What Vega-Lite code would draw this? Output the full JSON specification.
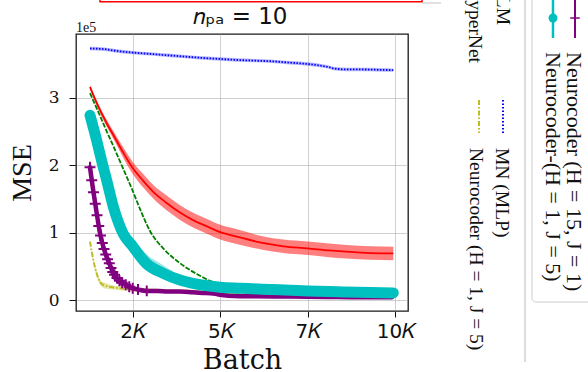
{
  "$schema": "https://vega.github.io/schema/vega-lite/v6.json",
  "width": 332,
  "height": 277,
  "autosize": {"type": "none"},
  "padding": {"left": 76, "top": 34, "right": 180, "bottom": 61},
  "background": "white",
  "config": {
    "view": {"stroke": "#1a1a1a", "strokeWidth": 1.3},
    "axis": {"grid": true, "gridColor": "#a0a0a0", "gridDash": [1, 1], "gridWidth": 1, "domain": false, "tickColor": "#111", "tickWidth": 1, "labelColor": "#111", "titleColor": "#111", "titleFontWeight": "normal"}
  },
  "datasets": {
    "curves": [
      {"s": "MN (MLP)", "b": 1280, "m": 3.73, "lo": 3.705, "hi": 3.755},
      {"s": "MN (MLP)", "b": 1700, "m": 3.72, "lo": 3.695, "hi": 3.745},
      {"s": "MN (MLP)", "b": 2100, "m": 3.69, "lo": 3.665, "hi": 3.715},
      {"s": "MN (MLP)", "b": 2500, "m": 3.67, "lo": 3.645, "hi": 3.695},
      {"s": "MN (MLP)", "b": 3000, "m": 3.65, "lo": 3.625, "hi": 3.675},
      {"s": "MN (MLP)", "b": 3500, "m": 3.63, "lo": 3.605, "hi": 3.655},
      {"s": "MN (MLP)", "b": 4000, "m": 3.61, "lo": 3.585, "hi": 3.635},
      {"s": "MN (MLP)", "b": 4500, "m": 3.59, "lo": 3.565, "hi": 3.615},
      {"s": "MN (MLP)", "b": 5000, "m": 3.575, "lo": 3.55, "hi": 3.6},
      {"s": "MN (MLP)", "b": 5500, "m": 3.56, "lo": 3.535, "hi": 3.585},
      {"s": "MN (MLP)", "b": 6000, "m": 3.55, "lo": 3.525, "hi": 3.575},
      {"s": "MN (MLP)", "b": 6500, "m": 3.54, "lo": 3.515, "hi": 3.565},
      {"s": "MN (MLP)", "b": 7000, "m": 3.52, "lo": 3.495, "hi": 3.545},
      {"s": "MN (MLP)", "b": 7500, "m": 3.5, "lo": 3.475, "hi": 3.525},
      {"s": "MN (MLP)", "b": 8000, "m": 3.465, "lo": 3.44, "hi": 3.49},
      {"s": "MN (MLP)", "b": 8300, "m": 3.43, "lo": 3.405, "hi": 3.455},
      {"s": "MN (MLP)", "b": 8600, "m": 3.42, "lo": 3.395, "hi": 3.445},
      {"s": "MN (MLP)", "b": 9000, "m": 3.42, "lo": 3.395, "hi": 3.445},
      {"s": "MN (MLP)", "b": 9500, "m": 3.415, "lo": 3.39, "hi": 3.44},
      {"s": "MN (MLP)", "b": 9940, "m": 3.41, "lo": 3.385, "hi": 3.435},

      {"s": "HyperNet", "b": 1280, "m": 3.16, "lo": 3.13, "hi": 3.19},
      {"s": "HyperNet", "b": 1500, "m": 2.89, "lo": 2.85, "hi": 2.93},
      {"s": "HyperNet", "b": 1760, "m": 2.62, "lo": 2.57, "hi": 2.67},
      {"s": "HyperNet", "b": 2000, "m": 2.4, "lo": 2.34, "hi": 2.46},
      {"s": "HyperNet", "b": 2250, "m": 2.17, "lo": 2.09, "hi": 2.25},
      {"s": "HyperNet", "b": 2500, "m": 1.96, "lo": 1.87, "hi": 2.05},
      {"s": "HyperNet", "b": 2800, "m": 1.77, "lo": 1.67, "hi": 1.87},
      {"s": "HyperNet", "b": 3100, "m": 1.6, "lo": 1.5, "hi": 1.7},
      {"s": "HyperNet", "b": 3450, "m": 1.45, "lo": 1.34, "hi": 1.56},
      {"s": "HyperNet", "b": 3850, "m": 1.3, "lo": 1.19, "hi": 1.41},
      {"s": "HyperNet", "b": 4250, "m": 1.18, "lo": 1.07, "hi": 1.29},
      {"s": "HyperNet", "b": 4600, "m": 1.1, "lo": 0.99, "hi": 1.21},
      {"s": "HyperNet", "b": 5000, "m": 1.01, "lo": 0.9, "hi": 1.12},
      {"s": "HyperNet", "b": 5500, "m": 0.94, "lo": 0.83, "hi": 1.05},
      {"s": "HyperNet", "b": 6200, "m": 0.85, "lo": 0.75, "hi": 0.95},
      {"s": "HyperNet", "b": 6800, "m": 0.8, "lo": 0.7, "hi": 0.9},
      {"s": "HyperNet", "b": 7500, "m": 0.77, "lo": 0.67, "hi": 0.87},
      {"s": "HyperNet", "b": 8100, "m": 0.74, "lo": 0.64, "hi": 0.84},
      {"s": "HyperNet", "b": 8600, "m": 0.72, "lo": 0.62, "hi": 0.82},
      {"s": "HyperNet", "b": 9300, "m": 0.7, "lo": 0.6, "hi": 0.8},
      {"s": "HyperNet", "b": 9940, "m": 0.695, "lo": 0.595, "hi": 0.795},

      {"s": "LM", "b": 1280, "m": 3.07},
      {"s": "LM", "b": 1500, "m": 2.81},
      {"s": "LM", "b": 1760, "m": 2.5},
      {"s": "LM", "b": 1950, "m": 2.28},
      {"s": "LM", "b": 2185, "m": 2.0},
      {"s": "LM", "b": 2500, "m": 1.62},
      {"s": "LM", "b": 2750, "m": 1.3},
      {"s": "LM", "b": 3000, "m": 1.02},
      {"s": "LM", "b": 3370, "m": 0.77},
      {"s": "LM", "b": 3850, "m": 0.55},
      {"s": "LM", "b": 4330, "m": 0.39},
      {"s": "LM", "b": 4800, "m": 0.27},
      {"s": "LM", "b": 5280, "m": 0.21},
      {"s": "LM", "b": 6000, "m": 0.17},
      {"s": "LM", "b": 7000, "m": 0.14},
      {"s": "LM", "b": 8000, "m": 0.12},
      {"s": "LM", "b": 9000, "m": 0.11},
      {"s": "LM", "b": 9940, "m": 0.1},

      {"s": "Neurocoder (H=1, J=5)", "b": 1280, "m": 0.87, "lo": 0.85, "hi": 0.89},
      {"s": "Neurocoder (H=1, J=5)", "b": 1330, "m": 0.72, "lo": 0.69, "hi": 0.75},
      {"s": "Neurocoder (H=1, J=5)", "b": 1374, "m": 0.6, "lo": 0.57, "hi": 0.63},
      {"s": "Neurocoder (H=1, J=5)", "b": 1420, "m": 0.49, "lo": 0.45, "hi": 0.53},
      {"s": "Neurocoder (H=1, J=5)", "b": 1470, "m": 0.4, "lo": 0.36, "hi": 0.44},
      {"s": "Neurocoder (H=1, J=5)", "b": 1520, "m": 0.32, "lo": 0.28, "hi": 0.36},
      {"s": "Neurocoder (H=1, J=5)", "b": 1565, "m": 0.27, "lo": 0.23, "hi": 0.31},
      {"s": "Neurocoder (H=1, J=5)", "b": 1650, "m": 0.23, "lo": 0.19, "hi": 0.27},
      {"s": "Neurocoder (H=1, J=5)", "b": 1757, "m": 0.21, "lo": 0.17, "hi": 0.25},
      {"s": "Neurocoder (H=1, J=5)", "b": 1950, "m": 0.19, "lo": 0.16, "hi": 0.22},
      {"s": "Neurocoder (H=1, J=5)", "b": 2136, "m": 0.18, "lo": 0.15, "hi": 0.21},
      {"s": "Neurocoder (H=1, J=5)", "b": 2500, "m": 0.16, "lo": 0.13, "hi": 0.19},
      {"s": "Neurocoder (H=1, J=5)", "b": 3000, "m": 0.15, "lo": 0.12, "hi": 0.18},
      {"s": "Neurocoder (H=1, J=5)", "b": 4000, "m": 0.13, "lo": 0.1, "hi": 0.16},
      {"s": "Neurocoder (H=1, J=5)", "b": 5000, "m": 0.11, "lo": 0.08, "hi": 0.14},
      {"s": "Neurocoder (H=1, J=5)", "b": 6000, "m": 0.1, "lo": 0.07, "hi": 0.13},
      {"s": "Neurocoder (H=1, J=5)", "b": 7000, "m": 0.09, "lo": 0.06, "hi": 0.12},
      {"s": "Neurocoder (H=1, J=5)", "b": 8000, "m": 0.085, "lo": 0.055, "hi": 0.115},
      {"s": "Neurocoder (H=1, J=5)", "b": 9000, "m": 0.08, "lo": 0.05, "hi": 0.11},
      {"s": "Neurocoder (H=1, J=5)", "b": 9940, "m": 0.08, "lo": 0.05, "hi": 0.11},

      {"s": "Neurocoder (H=15, J=1)", "b": 1280, "m": 1.97},
      {"s": "Neurocoder (H=15, J=1)", "b": 1330, "m": 1.78},
      {"s": "Neurocoder (H=15, J=1)", "b": 1380, "m": 1.6},
      {"s": "Neurocoder (H=15, J=1)", "b": 1430, "m": 1.43},
      {"s": "Neurocoder (H=15, J=1)", "b": 1480, "m": 1.26},
      {"s": "Neurocoder (H=15, J=1)", "b": 1530, "m": 1.1},
      {"s": "Neurocoder (H=15, J=1)", "b": 1580, "m": 0.96},
      {"s": "Neurocoder (H=15, J=1)", "b": 1630, "m": 0.85},
      {"s": "Neurocoder (H=15, J=1)", "b": 1680, "m": 0.76},
      {"s": "Neurocoder (H=15, J=1)", "b": 1730, "m": 0.68},
      {"s": "Neurocoder (H=15, J=1)", "b": 1780, "m": 0.61},
      {"s": "Neurocoder (H=15, J=1)", "b": 1830, "m": 0.55},
      {"s": "Neurocoder (H=15, J=1)", "b": 1880, "m": 0.48},
      {"s": "Neurocoder (H=15, J=1)", "b": 1930, "m": 0.42},
      {"s": "Neurocoder (H=15, J=1)", "b": 1980, "m": 0.38},
      {"s": "Neurocoder (H=15, J=1)", "b": 2050, "m": 0.33},
      {"s": "Neurocoder (H=15, J=1)", "b": 2120, "m": 0.29},
      {"s": "Neurocoder (H=15, J=1)", "b": 2200, "m": 0.26},
      {"s": "Neurocoder (H=15, J=1)", "b": 2300, "m": 0.23},
      {"s": "Neurocoder (H=15, J=1)", "b": 2400, "m": 0.2},
      {"s": "Neurocoder (H=15, J=1)", "b": 2500, "m": 0.18},
      {"s": "Neurocoder (H=15, J=1)", "b": 2650, "m": 0.16},
      {"s": "Neurocoder (H=15, J=1)", "b": 2900, "m": 0.14},
      {"s": "Neurocoder (H=15, J=1)", "b": 3200, "m": 0.14},
      {"s": "Neurocoder (H=15, J=1)", "b": 3500, "m": 0.13},
      {"s": "Neurocoder (H=15, J=1)", "b": 3850, "m": 0.13},
      {"s": "Neurocoder (H=15, J=1)", "b": 4200, "m": 0.12},
      {"s": "Neurocoder (H=15, J=1)", "b": 4500, "m": 0.11},
      {"s": "Neurocoder (H=15, J=1)", "b": 4800, "m": 0.1},
      {"s": "Neurocoder (H=15, J=1)", "b": 5100, "m": 0.075},
      {"s": "Neurocoder (H=15, J=1)", "b": 5400, "m": 0.065},
      {"s": "Neurocoder (H=15, J=1)", "b": 6000, "m": 0.06},
      {"s": "Neurocoder (H=15, J=1)", "b": 7000, "m": 0.055},
      {"s": "Neurocoder (H=15, J=1)", "b": 8000, "m": 0.05},
      {"s": "Neurocoder (H=15, J=1)", "b": 9000, "m": 0.045},
      {"s": "Neurocoder (H=15, J=1)", "b": 9900, "m": 0.045},

      {"s": "Neurocoder-(H=1, J=5)", "b": 1280, "m": 2.74, "lo": 2.72, "hi": 2.76},
      {"s": "Neurocoder-(H=1, J=5)", "b": 1470, "m": 2.37, "lo": 2.35, "hi": 2.39},
      {"s": "Neurocoder-(H=1, J=5)", "b": 1620, "m": 2.05, "lo": 2.03, "hi": 2.08},
      {"s": "Neurocoder-(H=1, J=5)", "b": 1760, "m": 1.77, "lo": 1.75, "hi": 1.8},
      {"s": "Neurocoder-(H=1, J=5)", "b": 1950, "m": 1.38, "lo": 1.36, "hi": 1.42},
      {"s": "Neurocoder-(H=1, J=5)", "b": 2230, "m": 0.985, "lo": 0.96, "hi": 1.04},
      {"s": "Neurocoder-(H=1, J=5)", "b": 2500, "m": 0.8, "lo": 0.77, "hi": 0.89},
      {"s": "Neurocoder-(H=1, J=5)", "b": 2900, "m": 0.54, "lo": 0.5, "hi": 0.68},
      {"s": "Neurocoder-(H=1, J=5)", "b": 3370, "m": 0.4, "lo": 0.37, "hi": 0.52},
      {"s": "Neurocoder-(H=1, J=5)", "b": 3850, "m": 0.3, "lo": 0.28, "hi": 0.37},
      {"s": "Neurocoder-(H=1, J=5)", "b": 4330, "m": 0.24, "lo": 0.22, "hi": 0.28},
      {"s": "Neurocoder-(H=1, J=5)", "b": 5000, "m": 0.195, "lo": 0.18, "hi": 0.21},
      {"s": "Neurocoder-(H=1, J=5)", "b": 5600, "m": 0.18, "lo": 0.165, "hi": 0.195},
      {"s": "Neurocoder-(H=1, J=5)", "b": 6200, "m": 0.165, "lo": 0.15, "hi": 0.18},
      {"s": "Neurocoder-(H=1, J=5)", "b": 7000, "m": 0.15, "lo": 0.135, "hi": 0.165},
      {"s": "Neurocoder-(H=1, J=5)", "b": 7500, "m": 0.14, "lo": 0.125, "hi": 0.155},
      {"s": "Neurocoder-(H=1, J=5)", "b": 8500, "m": 0.125, "lo": 0.11, "hi": 0.14},
      {"s": "Neurocoder-(H=1, J=5)", "b": 9300, "m": 0.115, "lo": 0.1, "hi": 0.13},
      {"s": "Neurocoder-(H=1, J=5)", "b": 9940, "m": 0.11, "lo": 0.095, "hi": 0.125}
    ],
    "legend": [
      {"s": "HyperNet", "label": "HyperNet"},
      {"s": "LM", "label": "LM"},
      {"s": "MN (MLP)", "label": "MN (MLP)"},
      {"s": "Neurocoder (H=1, J=5)", "label": "Neurocoder (H = 1, J = 5)"},
      {"s": "Neurocoder (H=15, J=1)", "label": "Neurocoder (H = 15, J = 1)"},
      {"s": "Neurocoder-(H=1, J=5)", "label": "Neurocoder-(H = 1, J = 5)"}
    ],
    "frame": [
      {"part": "figure box"},
      {"part": "top rule"},
      {"part": "panel edge"},
      {"part": "legend box"},
      {"part": "scale note", "label": "1e5"},
      {"part": "panel title", "label": "𝑛ₚₐ = 10"}
    ]
  },
  "layer": [
    {
      "data": {"name": "curves"},
      "transform": [{"filter": "datum.s === 'MN (MLP)'"}],
      "mark": {"type": "area", "opacity": 0.3, "interpolate": "monotone"},
      "encoding": {
        "x": {"field": "b", "type": "quantitative", "scale": {"domain": [880, 10360], "nice": false, "zero": false},
          "axis": {"values": [2500, 5000, 7500, 10000], "labelExpr": "floor(datum.value / 1000) + '𝐾'", "labelFont": "DejaVu Sans", "labelFontSize": 20, "tickSize": 6, "labelPadding": 4, "title": "Batch", "titleFont": "DejaVu Serif", "titleFontSize": 27, "titleBaseline": "alphabetic", "titleY": 57}},
        "y": {"field": "lo", "type": "quantitative", "scale": {"domain": [-0.158, 3.945], "nice": false, "zero": false},
          "axis": {"values": [0, 1, 2, 3], "format": "d", "labelFont": "DejaVu Serif", "labelFontSize": 17, "tickSize": 7, "labelPadding": 10, "title": "MSE", "titleFont": "Liberation Serif", "titleFontSize": 28, "titleBaseline": "alphabetic", "titleX": -46}},
        "y2": {"field": "hi"},
        "color": {"field": "s", "type": "nominal", "legend": null, "scale": {"domain": ["MN (MLP)", "HyperNet", "LM", "Neurocoder (H=1, J=5)", "Neurocoder (H=15, J=1)", "Neurocoder-(H=1, J=5)"], "range": ["#0000ff", "#ff0000", "#008000", "#bcbd22", "#800080", "#00bfbf"]}}
      }
    },
    {
      "data": {"name": "curves"},
      "transform": [{"filter": "datum.s === 'MN (MLP)'"}],
      "mark": {"type": "line", "strokeDash": [1.5, 1.5], "strokeWidth": 1.8, "interpolate": "monotone"},
      "encoding": {
        "x": {"field": "b", "type": "quantitative", "scale": {"domain": [880, 10360], "nice": false, "zero": false}},
        "y": {"field": "m", "type": "quantitative", "scale": {"domain": [-0.158, 3.945], "nice": false, "zero": false}},
        "color": {"field": "s", "type": "nominal", "legend": null}
      }
    },
    {
      "data": {"name": "curves"},
      "transform": [{"filter": "datum.s === 'HyperNet'"}],
      "mark": {"type": "area", "opacity": 0.5, "interpolate": "monotone"},
      "encoding": {
        "x": {"field": "b", "type": "quantitative", "scale": {"domain": [880, 10360], "nice": false, "zero": false}},
        "y": {"field": "lo", "type": "quantitative", "scale": {"domain": [-0.158, 3.945], "nice": false, "zero": false}},
        "y2": {"field": "hi"},
        "color": {"field": "s", "type": "nominal", "legend": null}
      }
    },
    {
      "data": {"name": "curves"},
      "transform": [{"filter": "datum.s === 'HyperNet'"}],
      "mark": {"type": "line", "strokeWidth": 1.8, "interpolate": "monotone"},
      "encoding": {
        "x": {"field": "b", "type": "quantitative", "scale": {"domain": [880, 10360], "nice": false, "zero": false}},
        "y": {"field": "m", "type": "quantitative", "scale": {"domain": [-0.158, 3.945], "nice": false, "zero": false}},
        "color": {"field": "s", "type": "nominal", "legend": null}
      }
    },
    {
      "data": {"name": "curves"},
      "transform": [{"filter": "datum.s === 'LM'"}],
      "mark": {"type": "line", "strokeDash": [5, 1.5], "strokeWidth": 1.8, "interpolate": "monotone"},
      "encoding": {
        "x": {"field": "b", "type": "quantitative", "scale": {"domain": [880, 10360], "nice": false, "zero": false}},
        "y": {"field": "m", "type": "quantitative", "scale": {"domain": [-0.158, 3.945], "nice": false, "zero": false}},
        "color": {"field": "s", "type": "nominal", "legend": null}
      }
    },
    {
      "data": {"name": "curves"},
      "transform": [{"filter": "datum.s === 'Neurocoder (H=1, J=5)'"}],
      "mark": {"type": "area", "opacity": 0.4, "interpolate": "monotone"},
      "encoding": {
        "x": {"field": "b", "type": "quantitative", "scale": {"domain": [880, 10360], "nice": false, "zero": false}},
        "y": {"field": "lo", "type": "quantitative", "scale": {"domain": [-0.158, 3.945], "nice": false, "zero": false}},
        "y2": {"field": "hi"},
        "color": {"field": "s", "type": "nominal", "legend": null}
      }
    },
    {
      "data": {"name": "curves"},
      "transform": [{"filter": "datum.s === 'Neurocoder (H=1, J=5)'"}],
      "mark": {"type": "line", "strokeDash": [5, 2, 1.5, 2], "strokeWidth": 2, "interpolate": "monotone"},
      "encoding": {
        "x": {"field": "b", "type": "quantitative", "scale": {"domain": [880, 10360], "nice": false, "zero": false}},
        "y": {"field": "m", "type": "quantitative", "scale": {"domain": [-0.158, 3.945], "nice": false, "zero": false}},
        "color": {"field": "s", "type": "nominal", "legend": null}
      }
    },
    {
      "data": {"name": "curves"},
      "transform": [{"filter": "datum.s === 'Neurocoder (H=15, J=1)'"}],
      "mark": {"type": "line", "strokeWidth": 4.5, "strokeCap": "round", "interpolate": "monotone"},
      "encoding": {
        "x": {"field": "b", "type": "quantitative", "scale": {"domain": [880, 10360], "nice": false, "zero": false}},
        "y": {"field": "m", "type": "quantitative", "scale": {"domain": [-0.158, 3.945], "nice": false, "zero": false}},
        "color": {"field": "s", "type": "nominal", "legend": null}
      }
    },
    {
      "data": {"name": "curves"},
      "transform": [{"filter": "datum.s === 'Neurocoder (H=15, J=1)' && datum.b <= 3000"}],
      "mark": {"type": "point", "shape": "M-1,0L1,0M0,-1L0,1", "filled": false, "size": 120, "strokeWidth": 2, "opacity": 1},
      "encoding": {
        "x": {"field": "b", "type": "quantitative", "scale": {"domain": [880, 10360], "nice": false, "zero": false}},
        "y": {"field": "m", "type": "quantitative", "scale": {"domain": [-0.158, 3.945], "nice": false, "zero": false}},
        "color": {"field": "s", "type": "nominal", "legend": null}
      }
    },
    {
      "data": {"name": "curves"},
      "transform": [{"filter": "datum.s === 'Neurocoder-(H=1, J=5)'"}],
      "mark": {"type": "area", "opacity": 0.4, "interpolate": "monotone"},
      "encoding": {
        "x": {"field": "b", "type": "quantitative", "scale": {"domain": [880, 10360], "nice": false, "zero": false}},
        "y": {"field": "lo", "type": "quantitative", "scale": {"domain": [-0.158, 3.945], "nice": false, "zero": false}},
        "y2": {"field": "hi"},
        "color": {"field": "s", "type": "nominal", "legend": null}
      }
    },
    {
      "data": {"name": "curves"},
      "transform": [{"filter": "datum.s === 'Neurocoder-(H=1, J=5)'"}],
      "mark": {"type": "line", "strokeWidth": 11, "strokeCap": "round", "strokeJoin": "round", "interpolate": "monotone"},
      "encoding": {
        "x": {"field": "b", "type": "quantitative", "scale": {"domain": [880, 10360], "nice": false, "zero": false}},
        "y": {"field": "m", "type": "quantitative", "scale": {"domain": [-0.158, 3.945], "nice": false, "zero": false}},
        "color": {"field": "s", "type": "nominal", "legend": null}
      }
    },
    {
      "data": {"name": "frame"},
      "transform": [{"filter": "datum.part === 'scale note'"}],
      "mark": {"type": "text", "align": "left", "baseline": "alphabetic", "dy": -2, "font": "Liberation Serif", "fontSize": 14, "color": "#111"},
      "encoding": {
        "x": {"datum": 880, "type": "quantitative", "scale": {"domain": [880, 10360], "nice": false, "zero": false}},
        "y": {"datum": 3.945, "type": "quantitative", "scale": {"domain": [-0.158, 3.945], "nice": false, "zero": false}},
        "text": {"field": "label"}
      }
    },
    {
      "data": {"name": "frame"},
      "transform": [{"filter": "datum.part === 'panel title'"}],
      "mark": {"type": "text", "align": "center", "baseline": "alphabetic", "font": "DejaVu Sans", "fontSize": 23, "color": "#111"},
      "encoding": {
        "x": {"datum": 5577, "type": "quantitative", "scale": {"domain": [880, 10360], "nice": false, "zero": false}},
        "y": {"datum": 4.1, "type": "quantitative", "scale": {"domain": [-0.158, 3.945], "nice": false, "zero": false}},
        "text": {"field": "label"}
      }
    },
    {
      "data": {"name": "frame"},
      "transform": [{"filter": "datum.part === 'figure box'"}],
      "mark": {"type": "rect", "filled": false, "color": "#ff0000", "strokeWidth": 1.5},
      "encoding": {
        "x": {"datum": 1565, "type": "quantitative", "scale": {"domain": [880, 10360], "nice": false, "zero": false}},
        "x2": {"datum": 10760},
        "y": {"datum": 4.423, "type": "quantitative", "scale": {"domain": [-0.158, 3.945], "nice": false, "zero": false}},
        "y2": {"datum": 4.6}
      }
    },
    {
      "data": {"name": "frame"},
      "transform": [{"filter": "datum.part === 'top rule'"}],
      "mark": {"type": "rule", "color": "#cccccc", "strokeWidth": 1.2},
      "encoding": {
        "x": {"datum": 10760, "type": "quantitative", "scale": {"domain": [880, 10360], "nice": false, "zero": false}},
        "x2": {"datum": 11302},
        "y": {"datum": 4.404, "type": "quantitative", "scale": {"domain": [-0.158, 3.945], "nice": false, "zero": false}}
      }
    },
    {
      "data": {"name": "frame"},
      "transform": [{"filter": "datum.part === 'panel edge'"}],
      "mark": {"type": "rule", "color": "#dddddd", "strokeWidth": 2.2},
      "encoding": {
        "x": {"datum": 13701, "type": "quantitative", "scale": {"domain": [880, 10360], "nice": false, "zero": false}},
        "y": {"datum": 4.5, "type": "quantitative", "scale": {"domain": [-0.158, 3.945], "nice": false, "zero": false}},
        "y2": {"datum": -0.914}
      }
    },
    {
      "data": {"name": "frame"},
      "transform": [{"filter": "datum.part === 'legend box'"}],
      "mark": {"type": "rect", "filled": false, "color": "#cccccc", "strokeWidth": 1, "cornerRadius": 4},
      "encoding": {
        "x": {"datum": 13901, "type": "quantitative", "scale": {"domain": [880, 10360], "nice": false, "zero": false}},
        "x2": {"datum": 16000},
        "y": {"datum": -0.025, "type": "quantitative", "scale": {"domain": [-0.158, 3.945], "nice": false, "zero": false}},
        "y2": {"datum": 4.6}
      }
    },
    {
      "data": {"name": "legend"},
      "transform": [{"filter": "datum.s === 'Neurocoder (H=15, J=1)'"}],
      "mark": {"type": "rule", "strokeWidth": 2},
      "encoding": {
        "x": {"datum": 15128, "type": "quantitative", "scale": {"domain": [880, 10360], "nice": false, "zero": false}},
        "y": {"datum": 4.5, "type": "quantitative", "scale": {"domain": [-0.158, 3.945], "nice": false, "zero": false}},
        "y2": {"datum": 3.886},
        "color": {"field": "s", "type": "nominal", "legend": null}
      }
    },
    {
      "data": {"name": "legend"},
      "transform": [{"filter": "datum.s === 'Neurocoder (H=15, J=1)'"}],
      "mark": {"type": "point", "shape": "M-1,0L1,0M0,-1L0,1", "filled": false, "size": 90, "strokeWidth": 1.6, "opacity": 1},
      "encoding": {
        "x": {"datum": 15128, "type": "quantitative", "scale": {"domain": [880, 10360], "nice": false, "zero": false}},
        "y": {"datum": 4.182, "type": "quantitative", "scale": {"domain": [-0.158, 3.945], "nice": false, "zero": false}},
        "color": {"field": "s", "type": "nominal", "legend": null}
      }
    },
    {
      "data": {"name": "legend"},
      "transform": [{"filter": "datum.s === 'Neurocoder-(H=1, J=5)'"}],
      "mark": {"type": "rule", "strokeWidth": 2.5},
      "encoding": {
        "x": {"datum": 14500, "type": "quantitative", "scale": {"domain": [880, 10360], "nice": false, "zero": false}},
        "y": {"datum": 4.5, "type": "quantitative", "scale": {"domain": [-0.158, 3.945], "nice": false, "zero": false}},
        "y2": {"datum": 3.886},
        "color": {"field": "s", "type": "nominal", "legend": null}
      }
    },
    {
      "data": {"name": "legend"},
      "transform": [{"filter": "datum.s === 'Neurocoder-(H=1, J=5)'"}],
      "mark": {"type": "circle", "size": 80, "opacity": 1},
      "encoding": {
        "x": {"datum": 14500, "type": "quantitative", "scale": {"domain": [880, 10360], "nice": false, "zero": false}},
        "y": {"datum": 4.182, "type": "quantitative", "scale": {"domain": [-0.158, 3.945], "nice": false, "zero": false}},
        "color": {"field": "s", "type": "nominal", "legend": null}
      }
    },
    {
      "data": {"name": "legend"},
      "transform": [{"filter": "datum.s === 'MN (MLP)'"}],
      "mark": {"type": "rule", "strokeWidth": 2, "strokeDash": [1.5, 2]},
      "encoding": {
        "x": {"datum": 13073, "type": "quantitative", "scale": {"domain": [880, 10360], "nice": false, "zero": false}},
        "y": {"datum": 2.967, "type": "quantitative", "scale": {"domain": [-0.158, 3.945], "nice": false, "zero": false}},
        "y2": {"datum": 2.478},
        "color": {"field": "s", "type": "nominal", "legend": null}
      }
    },
    {
      "data": {"name": "legend"},
      "transform": [{"filter": "datum.s === 'Neurocoder (H=1, J=5)'"}],
      "mark": {"type": "rule", "strokeWidth": 2, "strokeDash": [5, 2, 1.5, 2]},
      "encoding": {
        "x": {"datum": 12387, "type": "quantitative", "scale": {"domain": [880, 10360], "nice": false, "zero": false}},
        "y": {"datum": 2.967, "type": "quantitative", "scale": {"domain": [-0.158, 3.945], "nice": false, "zero": false}},
        "y2": {"datum": 2.478},
        "color": {"field": "s", "type": "nominal", "legend": null}
      }
    },
    {
      "data": {"name": "legend"},
      "transform": [{"filter": "datum.s === 'Neurocoder (H=15, J=1)'"}],
      "mark": {"type": "text", "angle": 90, "align": "left", "baseline": "middle", "font": "Liberation Serif", "fontSize": 22, "color": "#111"},
      "encoding": {
        "x": {"datum": 15100, "type": "quantitative", "scale": {"domain": [880, 10360], "nice": false, "zero": false}},
        "y": {"datum": 3.678, "type": "quantitative", "scale": {"domain": [-0.158, 3.945], "nice": false, "zero": false}},
        "text": {"field": "label"}
      }
    },
    {
      "data": {"name": "legend"},
      "transform": [{"filter": "datum.s === 'Neurocoder-(H=1, J=5)'"}],
      "mark": {"type": "text", "angle": 90, "align": "left", "baseline": "middle", "font": "Liberation Serif", "fontSize": 22, "color": "#111"},
      "encoding": {
        "x": {"datum": 14500, "type": "quantitative", "scale": {"domain": [880, 10360], "nice": false, "zero": false}},
        "y": {"datum": 3.678, "type": "quantitative", "scale": {"domain": [-0.158, 3.945], "nice": false, "zero": false}},
        "text": {"field": "label"}
      }
    },
    {
      "data": {"name": "legend"},
      "transform": [{"filter": "datum.s === 'MN (MLP)'"}],
      "mark": {"type": "text", "angle": 90, "align": "left", "baseline": "middle", "font": "Liberation Serif", "fontSize": 19.5, "color": "#111"},
      "encoding": {
        "x": {"datum": 13030, "type": "quantitative", "scale": {"domain": [880, 10360], "nice": false, "zero": false}},
        "y": {"datum": 2.256, "type": "quantitative", "scale": {"domain": [-0.158, 3.945], "nice": false, "zero": false}},
        "text": {"field": "label"}
      }
    },
    {
      "data": {"name": "legend"},
      "transform": [{"filter": "datum.s === 'Neurocoder (H=1, J=5)'"}],
      "mark": {"type": "text", "angle": 90, "align": "left", "baseline": "middle", "font": "Liberation Serif", "fontSize": 19.5, "color": "#111"},
      "encoding": {
        "x": {"datum": 12302, "type": "quantitative", "scale": {"domain": [880, 10360], "nice": false, "zero": false}},
        "y": {"datum": 2.256, "type": "quantitative", "scale": {"domain": [-0.158, 3.945], "nice": false, "zero": false}},
        "text": {"field": "label"}
      }
    },
    {
      "data": {"name": "legend"},
      "transform": [{"filter": "datum.s === 'LM'"}],
      "mark": {"type": "text", "angle": 90, "align": "right", "baseline": "middle", "font": "Liberation Serif", "fontSize": 19.5, "color": "#111"},
      "encoding": {
        "x": {"datum": 13073, "type": "quantitative", "scale": {"domain": [880, 10360], "nice": false, "zero": false}},
        "y": {"datum": 4.078, "type": "quantitative", "scale": {"domain": [-0.158, 3.945], "nice": false, "zero": false}},
        "text": {"field": "label"}
      }
    },
    {
      "data": {"name": "legend"},
      "transform": [{"filter": "datum.s === 'HyperNet'"}],
      "mark": {"type": "text", "angle": 90, "align": "right", "baseline": "middle", "font": "Liberation Serif", "fontSize": 19.5, "color": "#111"},
      "encoding": {
        "x": {"datum": 12273, "type": "quantitative", "scale": {"domain": [880, 10360], "nice": false, "zero": false}},
        "y": {"datum": 3.515, "type": "quantitative", "scale": {"domain": [-0.158, 3.945], "nice": false, "zero": false}},
        "text": {"field": "label"}
      }
    }
  ]
}
